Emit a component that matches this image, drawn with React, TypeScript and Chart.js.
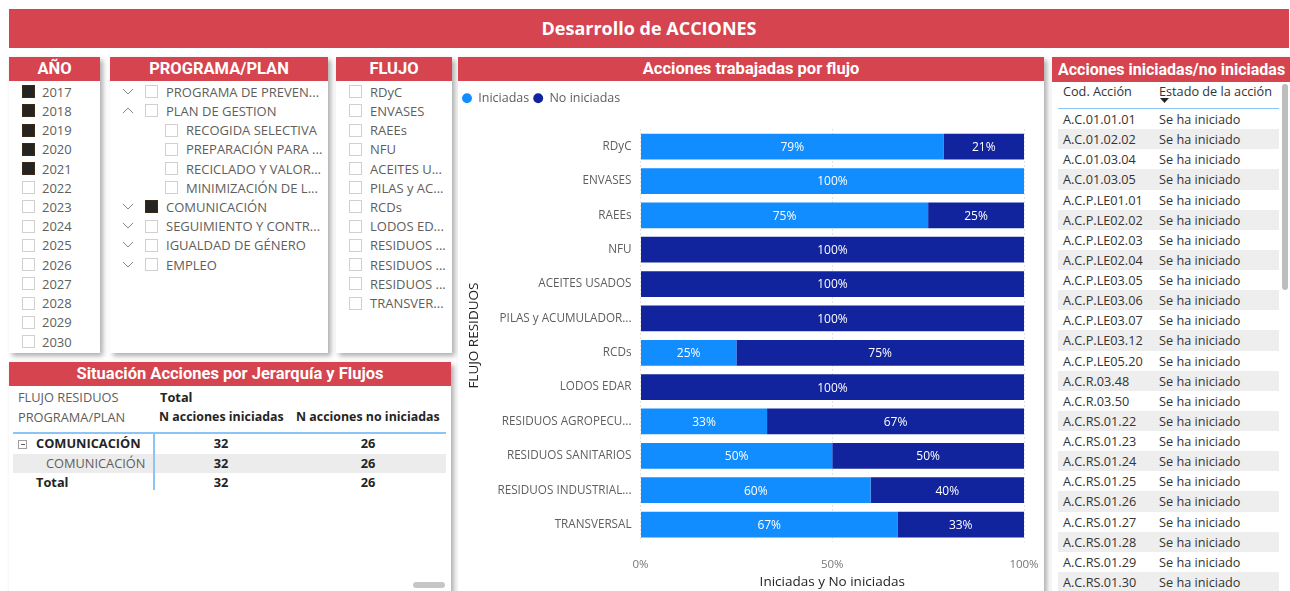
import React, { useEffect, useRef } from "react";
import { Chart, registerables } from "chart.js";

Chart.register(...registerables);

// ---------- DATA ----------
const flujos = [
  "RDyC",
  "ENVASES",
  "RAEEs",
  "NFU",
  "ACEITES USADOS",
  "PILAS y ACUMULADOR...",
  "RCDs",
  "LODOS EDAR",
  "RESIDUOS AGROPECU...",
  "RESIDUOS SANITARIOS",
  "RESIDUOS INDUSTRIAL...",
  "TRANSVERSAL",
];
const iniciadas = [79, 100, 75, 0, 0, 0, 25, 0, 33, 50, 60, 67];
const noIniciadas = [21, 0, 25, 100, 100, 100, 75, 100, 67, 50, 40, 33];
const seriesNames = ["Iniciadas", "No iniciadas"];
const seriesColors = ["#118DFF", "#12239E"];
const xTickStep = 50;

const anos = ["2017", "2018", "2019", "2020", "2021", "2022", "2023", "2024", "2025", "2026", "2027", "2028", "2029", "2030"];
const anosMarcados = ["2017", "2018", "2019", "2020", "2021"];

const programaLabels = [
  "PROGRAMA DE PREVEN...",
  "PLAN DE GESTION",
  "RECOGIDA SELECTIVA",
  "PREPARACIÓN PARA ...",
  "RECICLADO Y VALOR...",
  "MINIMIZACIÓN DE L...",
  "COMUNICACIÓN",
  "SEGUIMIENTO Y CONTR...",
  "IGUALDAD DE GÉNERO",
  "EMPLEO",
];
const programaNivel = [0, 0, 1, 1, 1, 1, 0, 0, 0, 0];
const programaChevron = ["down", "up", "", "", "", "", "down", "down", "down", "down"];
const programaMarcado = [false, false, false, false, false, false, true, false, false, false];

const flujoSlicer = [
  "RDyC",
  "ENVASES",
  "RAEEs",
  "NFU",
  "ACEITES U...",
  "PILAS y AC...",
  "RCDs",
  "LODOS ED...",
  "RESIDUOS ...",
  "RESIDUOS ...",
  "RESIDUOS ...",
  "TRANSVER...",
];

const matrizFilas = ["COMUNICACIÓN", "COMUNICACIÓN", "Total"];
const matrizIniciadas = [32, 32, 32];
const matrizNoIniciadas = [26, 26, 26];

const codAcciones = [
  "A.C.01.01.01",
  "A.C.01.02.02",
  "A.C.01.03.04",
  "A.C.01.03.05",
  "A.C.P.LE01.01",
  "A.C.P.LE02.02",
  "A.C.P.LE02.03",
  "A.C.P.LE02.04",
  "A.C.P.LE03.05",
  "A.C.P.LE03.06",
  "A.C.P.LE03.07",
  "A.C.P.LE03.12",
  "A.C.P.LE05.20",
  "A.C.R.03.48",
  "A.C.R.03.50",
  "A.C.RS.01.22",
  "A.C.RS.01.23",
  "A.C.RS.01.24",
  "A.C.RS.01.25",
  "A.C.RS.01.26",
  "A.C.RS.01.27",
  "A.C.RS.01.28",
  "A.C.RS.01.29",
  "A.C.RS.01.30",
];
const estadoAcciones = codAcciones.map(() => "Se ha iniciado");

// ---------- STYLE ----------
const RED = "#D6444F";
const BODY_FONT = "'Open Sans', 'Noto Sans', sans-serif";
const HEAD_FONT = "Roboto, 'Open Sans', sans-serif";
const TEXT_GRAY = "#605E5C";
const SHADOW = "3px 3px 5px rgba(0,0,0,0.32)";

Chart.defaults.font.family = BODY_FONT;

const abs = (l: number, t: number, w: number, h: number, extra: any = {}) => ({
  position: "absolute" as const,
  left: l,
  top: t,
  width: w,
  height: h,
  ...extra,
});

function Header({ text, h = 24, align = "center", pad = 0, size = 16.5 }: any) {
  return (
    <div
      style={{
        height: h,
        background: RED,
        color: "#fff",
        fontFamily: HEAD_FONT,
        fontWeight: 700,
        fontSize: size,
        lineHeight: h + "px",
        textAlign: align,
        paddingLeft: pad,
        whiteSpace: "nowrap",
        overflow: "hidden",
      }}
    >
      {text}
    </div>
  );
}

function Check({ on, left, top }: any) {
  return (
    <div
      style={abs(left, top, 13, 13, {
        boxSizing: "border-box",
        background: on ? "#252423" : "#fff",
        border: on ? "1px solid #3a2a1a" : "1px solid #d2d0ce",
      })}
    />
  );
}

function Chevron({ dir, left, top }: any) {
  const pts = dir === "down" ? "1,1 6,6 11,1" : "1,6 6,1 11,6";
  return (
    <svg style={abs(left, top, 12, 7)} width={12} height={7}>
      <polyline points={pts} fill="none" stroke="#8a8886" strokeWidth={1} />
    </svg>
  );
}

const ROW_H = 19.23;

function SlicerText({ text, left, cy }: any) {
  return (
    <div
      style={abs(left, cy - 9, 220, 18, {
        fontFamily: BODY_FONT,
        fontSize: 13,
        lineHeight: "18px",
        color: TEXT_GRAY,
        whiteSpace: "nowrap",
      })}
    >
      {text}
    </div>
  );
}

function BarChart() {
  const ref = useRef<HTMLCanvasElement>(null);
  useEffect(() => {
    const legendSpacer = {
      id: "legendSpacer",
      beforeInit(chart: any) {
        const fit = chart.legend.fit;
        chart.legend.fit = function () {
          fit.call(this);
          this.height += 15;
        };
      },
    };
    const dataLabels = {
      id: "dataLabels",
      afterDatasetsDraw(chart: any) {
        const ctx = chart.ctx;
        ctx.save();
        ctx.font = "12px " + BODY_FONT;
        ctx.fillStyle = "#ffffff";
        ctx.textAlign = "center";
        ctx.textBaseline = "middle";
        chart.data.datasets.forEach((ds: any, i: number) => {
          const meta = chart.getDatasetMeta(i);
          meta.data.forEach((el: any, j: number) => {
            const v = ds.data[j];
            if (!v) return;
            const p = el.getCenterPoint();
            ctx.fillText(Math.round(v) + "%", p.x, p.y + 1);
          });
        });
        ctx.restore();
      },
    };
    const chart = new Chart(ref.current as HTMLCanvasElement, {
      type: "bar",
      data: {
        labels: flujos,
        datasets: [
          {
            label: seriesNames[0],
            data: iniciadas,
            backgroundColor: seriesColors[0],
            barPercentage: 0.75,
            categoryPercentage: 1,
          },
          {
            label: seriesNames[1],
            data: noIniciadas,
            backgroundColor: seriesColors[1],
            barPercentage: 0.75,
            categoryPercentage: 1,
          },
        ],
      },
      options: {
        indexAxis: "y",
        animation: false,
        responsive: false,
        layout: { padding: { top: 7, left: 0, right: 20, bottom: 0 } },
        plugins: {
          legend: {
            position: "top",
            align: "start",
            labels: {
              usePointStyle: true,
              pointStyle: "circle",
              boxWidth: 10,
              boxHeight: 7,
              padding: 4,
              color: TEXT_GRAY,
              font: { size: 12.5 },
            },
          },
          tooltip: { enabled: false },
        },
        scales: {
          x: {
            stacked: true,
            min: 0,
            max: 100,
            ticks: {
              stepSize: xTickStep,
              callback: (v: any) => v + "%",
              padding: 16,
              color: "#777",
              font: { size: 11.5 },
            },
            grid: { color: "#c8c6c4", drawTicks: false },
            border: { display: false, dash: [1, 3] },
            title: {
              display: true,
              text: "Iniciadas y No iniciadas",
              color: "#252423",
              font: { size: 13.5 },
              padding: { top: 0, bottom: 1 },
            },
            afterFit: (s: any) => {
              s.height = 49.3;
              s.paddingLeft = 0;
              s.paddingRight = 0;
            },
          },
          y: {
            stacked: true,
            ticks: { padding: 9, color: TEXT_GRAY, font: { size: 11.7 } },
            grid: { display: false, drawTicks: false },
            border: { display: false },
            title: {
              display: true,
              text: "FLUJO RESIDUOS",
              color: "#252423",
              font: { size: 13.5 },
              padding: { top: 8, bottom: 0 },
            },
            afterFit: (s: any) => {
              s.width = 182.5;
            },
          },
        },
      },
      plugins: [legendSpacer, dataLabels],
    } as any);
    return () => chart.destroy();
  }, []);
  return <canvas ref={ref} width={586} height={510} style={abs(0, 24, 586, 510)} />;
}

export default function App() {
  useEffect(() => {
    document.body.style.margin = "0";
  }, []);
  return (
    <div style={{ position: "relative", width: 1290, height: 591, overflow: "hidden", background: "#fff" }}>
      {/* Banner */}
      <div
        style={abs(9, 9, 1280, 39, {
          background: RED,
          color: "#fff",
          fontFamily: BODY_FONT,
          fontWeight: 700,
          fontSize: 18,
          lineHeight: "39px",
          textAlign: "center",
        })}
      >
        Desarrollo de ACCIONES
      </div>

      {/* AÑO */}
      <div style={abs(9, 57, 91, 296, { background: "#fff", boxShadow: SHADOW })}>
        <Header text="AÑO" />
        {anos.map((a, i) => {
          const cy = 24 + ROW_H * (i + 0.5) + 1;
          return (
            <React.Fragment key={a}>
              <Check on={anosMarcados.includes(a)} left={13} top={cy - 6.5} />
              <SlicerText text={a} left={33} cy={cy} />
            </React.Fragment>
          );
        })}
      </div>

      {/* PROGRAMA/PLAN */}
      <div style={abs(110, 57, 218, 296, { background: "#fff", boxShadow: SHADOW })}>
        <Header text="PROGRAMA/PLAN" />
        {programaLabels.map((p, i) => {
          const cy = 24 + ROW_H * (i + 0.5) + 1;
          const lvl = programaNivel[i];
          return (
            <React.Fragment key={i}>
              {programaChevron[i] && <Chevron dir={programaChevron[i]} left={12} top={cy - 4} />}
              <Check on={programaMarcado[i]} left={35 + lvl * 20} top={cy - 6.5} />
              <SlicerText text={p} left={56 + lvl * 20} cy={cy} />
            </React.Fragment>
          );
        })}
      </div>

      {/* FLUJO */}
      <div style={abs(336, 57, 116, 296, { background: "#fff", boxShadow: SHADOW, overflow: "hidden" })}>
        <Header text="FLUJO" />
        {flujoSlicer.map((f, i) => {
          const cy = 24 + ROW_H * (i + 0.5) + 1;
          return (
            <React.Fragment key={i}>
              <Check on={false} left={13} top={cy - 6.5} />
              <SlicerText text={f} left={34} cy={cy} />
            </React.Fragment>
          );
        })}
      </div>

      {/* Situación */}
      <div style={abs(9, 362, 442, 240, { background: "#fff", boxShadow: SHADOW })}>
        <Header text="Situación Acciones por Jerarquía y Flujos" />
        <div style={abs(0, 24, 442, 216, { fontFamily: BODY_FONT, fontSize: 12.8, color: "#252423" })}>
          <div style={abs(9, 1.5, 140, 18, { lineHeight: "18px", color: TEXT_GRAY })}>FLUJO RESIDUOS</div>
          <div style={abs(151, 1.5, 100, 18, { lineHeight: "18px", fontWeight: 700 })}>Total</div>
          <div style={abs(9, 21.5, 140, 18, { lineHeight: "18px", color: TEXT_GRAY })}>PROGRAMA/PLAN</div>
          <div style={abs(150, 21.5, 140, 18, { lineHeight: "18px", fontWeight: 700, fontSize: 12.4, whiteSpace: "nowrap" })}>
            N acciones iniciadas
          </div>
          <div style={abs(287, 21.5, 160, 18, { lineHeight: "18px", fontWeight: 700, fontSize: 12.4, whiteSpace: "nowrap" })}>
            N acciones no iniciadas
          </div>
          <div style={abs(4, 46, 433, 2, { background: "#8cc4f6" })} />
          <div style={abs(144, 46, 2, 58, { background: "#8cc4f6" })} />
          {matrizFilas.map((r, i) => {
            const top = 48 + i * 19.5;
            const bold = i !== 1;
            return (
              <React.Fragment key={i}>
                {i === 1 && <div style={abs(4, top, 433, 19.5, { background: "#ececec" })} />}
                {i === 1 && <div style={abs(144, top, 2, 19.5, { background: "#8cc4f6" })} />}
                {i === 0 && (
                  <div
                    style={abs(9, top + 6, 9, 9, {
                      boxSizing: "border-box",
                      border: "1px solid #a19f9d",
                    })}
                  >
                    <div style={abs(1.5, 3, 4, 1, { background: "#605E5C" })} />
                  </div>
                )}
                <div
                  style={abs(i === 1 ? 37 : 27, top, 120, 19.5, {
                    lineHeight: "19.5px",
                    fontWeight: bold ? 700 : 400,
                    color: bold ? "#252423" : TEXT_GRAY,
                    whiteSpace: "nowrap",
                  })}
                >
                  {r}
                </div>
                <div style={abs(182, top, 60, 19.5, { lineHeight: "19.5px", fontWeight: 700, textAlign: "center" })}>
                  {matrizIniciadas[i]}
                </div>
                <div style={abs(329, top, 60, 19.5, { lineHeight: "19.5px", fontWeight: 700, textAlign: "center" })}>
                  {matrizNoIniciadas[i]}
                </div>
              </React.Fragment>
            );
          })}
          <div style={abs(404, 196, 32, 6, { background: "#c8c6c4", borderRadius: 3 })} />
        </div>
      </div>

      {/* Chart panel */}
      <div style={abs(458, 57, 586, 545, { background: "#fff", boxShadow: SHADOW })}>
        <Header text="Acciones trabajadas por flujo" />
        <BarChart />
      </div>

      {/* Right table */}
      <div style={abs(1052, 57, 250, 545, { background: "#fff", boxShadow: SHADOW })}>
        <Header text="Acciones iniciadas/no iniciadas" h={25} align="left" pad={6} size={16} />
        <div style={abs(0, 25, 250, 520, { fontFamily: BODY_FONT, fontSize: 12.7, color: "#333" })}>
          <div style={abs(11, 0, 90, 18, { lineHeight: "18px" })}>Cod. Acción</div>
          <div style={abs(107, 0, 130, 18, { lineHeight: "18px", whiteSpace: "nowrap" })}>Estado de la acción</div>
          <svg style={abs(108, 16, 9, 5)} width={9} height={5}>
            <polygon points="0,0 9,0 4.5,5" fill="#252423" />
          </svg>
          <div style={abs(6, 25.5, 221, 1.5, { background: "#8cc4f6" })} />
          {codAcciones.map((c, i) => {
            const top = 27 + i * 20.13;
            return (
              <React.Fragment key={c}>
                {i % 2 === 1 && <div style={abs(6, top, 221, 20.13, { background: "#eeeeee" })} />}
                <div style={abs(11, top, 95, 20.13, { lineHeight: "20.13px", whiteSpace: "nowrap" })}>{c}</div>
                <div style={abs(107, top, 120, 20.13, { lineHeight: "20.13px", whiteSpace: "nowrap" })}>
                  {estadoAcciones[i]}
                </div>
              </React.Fragment>
            );
          })}
          <div style={abs(230, 2, 6, 206, { background: "#bdbdbd", borderRadius: 3 })} />
        </div>
      </div>
    </div>
  );
}
